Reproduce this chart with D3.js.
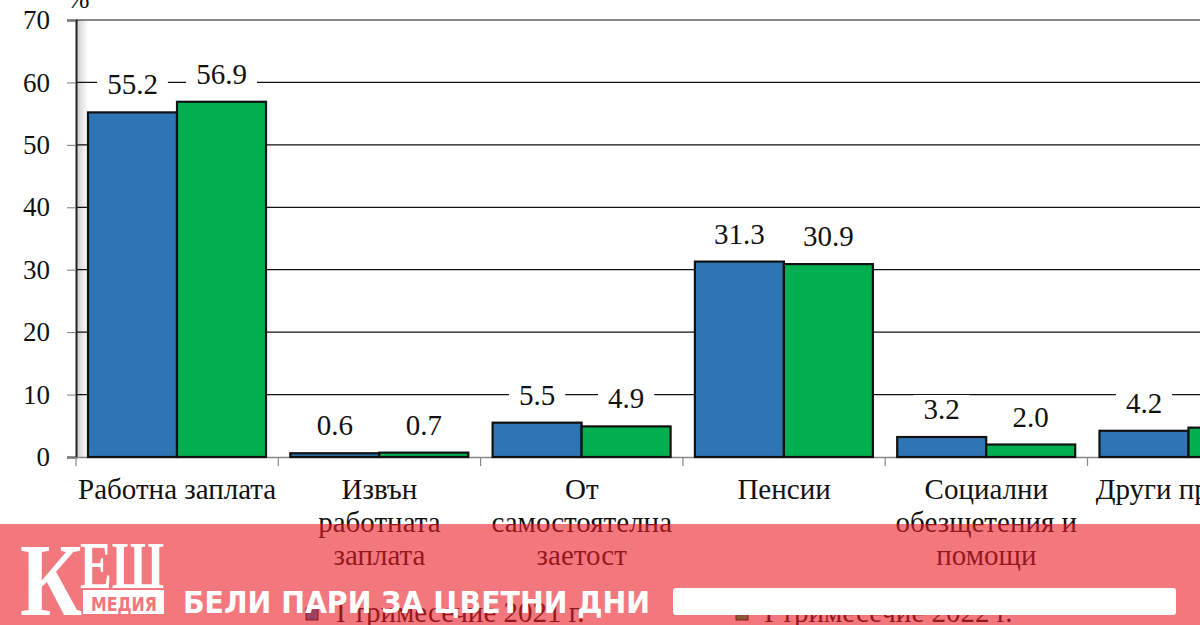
<!DOCTYPE html>
<html><head><meta charset="utf-8">
<script src="https://cdn.jsdelivr.net/npm/d3@7"></script>
<style>html,body{margin:0;padding:0;background:#fff;overflow:hidden}svg{display:block}</style>
</head><body><svg id="c" width="1200" height="625"></svg>
<script>
const categories = ["Работна заплата","Извън работната заплата","От самостоятелна заетост","Пенсии","Социални обезщетения и помощи","Други приходи"];
const categoryLines = [["Работна заплата"],["Извън","работната","заплата"],["От","самостоятелна","заетост"],["Пенсии"],["Социални","обезщетения и","помощи"],["Други приходи"]];
const seriesNames = ["I тримесечие 2021 г.","I тримесечие 2022 г."];
const values2021 = [55.2,0.6,5.5,31.3,3.2,4.2];
const values2022 = [56.9,0.7,4.9,30.9,2.0,4.7];
const yTicks = [0,10,20,30,40,50,60,70];
const colors = ["#2e75b6","#00b050"];

const svg = d3.select("#c");
const serif = "Liberation Serif";
const sans = "DejaVu Sans";
const x = d3.scaleBand().domain(categories).range([76, 76 + 6*202.3]).padding(0);
const xs = d3.scaleBand().domain([0,1]).range([12, 190]).padding(0);
const y = d3.scaleLinear().domain([0,70]).range([457, 20]);

// shadow strip near axis
const defs = svg.append("defs");
const g1 = defs.append("linearGradient").attr("id","sh").attr("x1","0").attr("x2","1");
g1.append("stop").attr("offset","0").attr("stop-color","#cfcfcf");
g1.append("stop").attr("offset","1").attr("stop-color","#ffffff");
svg.append("rect").attr("x",77).attr("y",y(70)).attr("width",11).attr("height",y(0)-y(70)).attr("fill","url(#sh)");

// gridlines
svg.append("g").selectAll("line").data(yTicks.filter(d=>d>0)).join("line")
  .attr("x1",76).attr("x2",1300).attr("y1",d=>y(d)).attr("y2",d=>y(d))
  .attr("stroke","#111").attr("stroke-width",1.2);

// y axis
const ya = svg.append("g").attr("transform","translate(76,0)")
  .call(d3.axisLeft(y).tickValues(yTicks).tickSize(9).tickPadding(17).tickFormat(d3.format("d")));
ya.select(".domain").attr("stroke","#222").attr("stroke-width",2);
ya.selectAll(".tick line").attr("stroke","#777");
ya.selectAll("text").style("font-family",serif).style("font-size","27px").attr("fill","#111");

svg.append("text").attr("x",67).attr("y",8).style("font-family",serif).style("font-size","27px").attr("fill","#111").text("%");

// x axis
const xa = svg.append("g").attr("transform","translate(0,457)")
  .call(d3.axisBottom(x).tickSize(0).tickFormat(""));
xa.select(".domain").attr("stroke","#888").attr("stroke-width",1.5);
svg.append("g").selectAll("line").data(categories.concat(["_end"])).join("line")
  .attr("x1",(d,i)=>76+i*x.step()).attr("x2",(d,i)=>76+i*x.step())
  .attr("y1",457).attr("y2",466).attr("stroke","#888").attr("stroke-width",1.2);

// bars
const data = categories.map((c,i)=>({c, v:[values2021[i],values2022[i]]}));
const grp = svg.append("g").selectAll("g").data(data).join("g")
  .attr("transform",d=>`translate(${x(d.c)},0)`);
grp.selectAll("rect").data(d=>d.v.map((v,k)=>({v,k}))).join("rect")
  .attr("x",d=>xs(d.k)).attr("width",xs.bandwidth())
  .attr("y",d=>y(d.v)).attr("height",d=>y(0)-y(d.v))
  .attr("fill",d=>colors[d.k]).attr("stroke","#111").attr("stroke-width",2.2);

// value labels with white background
grp.each(function(d){
  const g = d3.select(this);
  d.v.forEach((v,k)=>{
    const cx = xs(k)+xs.bandwidth()/2, cy = y(v)-28;
    const t = g.append("text").attr("x",cx).attr("y",cy+10).attr("text-anchor","middle")
      .style("font-family",serif).style("font-size","29px").attr("fill","#111").text(v.toFixed(1));
    const w = t.node().getComputedTextLength();
    g.insert("rect","text").attr("x",cx-w/2-10).attr("y",cy-14).attr("width",w+20).attr("height",28).attr("fill","#fff");
  });
});

// category labels
svg.append("g").selectAll("text").data(categories).join("text")
  .attr("x",d=>x(d)+x.bandwidth()/2).attr("y",499)
  .attr("text-anchor","middle").style("font-family",serif).style("font-size","29px").attr("fill","#111")
  .each(function(d,i){
    const t = d3.select(this);
    categoryLines[i].forEach((ln,j)=>{
      t.append("tspan").attr("x",x(d)+x.bandwidth()/2).attr("dy",j===0?0:33).text(ln);
    });
  });

// legend
const legX = [306, 736], legTX = [336, 764];
seriesNames.forEach((s,i)=>{
  svg.append("rect").attr("x",legX[i]).attr("y",608).attr("width",12).attr("height",12).attr("fill",colors[i]).attr("stroke","#111").attr("stroke-width",1);
  svg.append("text").attr("x",legTX[i]).attr("y",622).style("font-family",serif).style("font-size","29px").attr("fill","#111").text(s);
});

// overlay banner
svg.append("rect").attr("x",0).attr("y",524).attr("width",1200).attr("height",101).attr("fill","rgba(235,30,40,0.6)");
svg.append("rect").attr("x",673).attr("y",588).attr("width",503).attr("height",27).attr("rx",3).attr("fill","#fff");
svg.append("text").attr("x",20).attr("y",615).style("font-family",serif).style("font-weight","bold").style("font-size","104px").attr("fill","#fff")
  .attr("textLength",62).attr("lengthAdjust","spacingAndGlyphs").text("К");
svg.append("text").attr("x",80).attr("y",588).style("font-family",serif).style("font-weight","bold").style("font-size","68px").attr("fill","#fff")
  .attr("textLength",84).attr("lengthAdjust","spacingAndGlyphs").text("ЕШ");
svg.append("rect").attr("x",83).attr("y",590).attr("width",81).attr("height",24).attr("fill","#fff");
svg.append("text").attr("x",91).attr("y",611).style("font-family",sans).style("font-weight","bold").style("font-size","20px").attr("fill","#f2767b")
  .attr("textLength",66).attr("lengthAdjust","spacingAndGlyphs").text("МЕДИЯ");
svg.append("text").attr("x",183).attr("y",613).style("font-family",sans).style("font-weight","900").style("font-size","31px").attr("fill","#fff")
  .attr("textLength",467).attr("lengthAdjust","spacingAndGlyphs").text("БЕЛИ ПАРИ ЗА ЦВЕТНИ ДНИ");
</script></body></html>
